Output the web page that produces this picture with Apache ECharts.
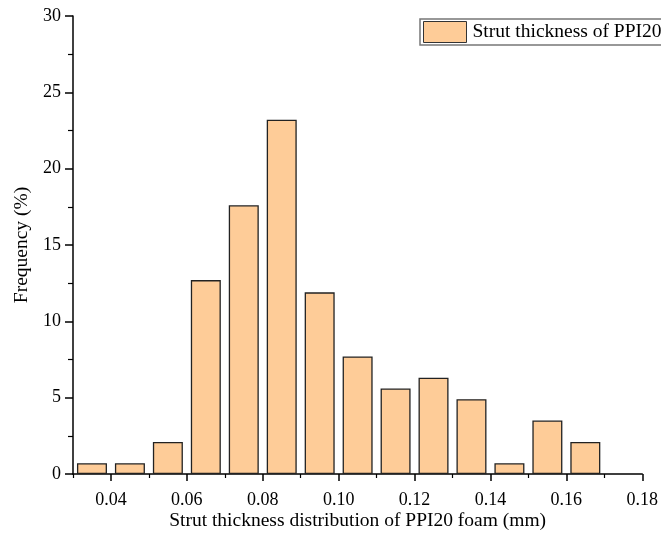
<!DOCTYPE html>
<html>
<head>
<meta charset="utf-8">
<script src="https://cdn.jsdelivr.net/npm/echarts@6/dist/echarts.min.js"></script>
<style>html,body{margin:0;padding:0;background:#fff;}#c{width:661px;height:542px;}</style>
</head>
<body>
<div id="c"></div>
<script>
var binCenters = [0.035, 0.045, 0.055, 0.065, 0.075, 0.085, 0.095, 0.105, 0.115, 0.125, 0.135, 0.145, 0.155, 0.165];
var frequency = [0.7, 0.7, 2.1, 12.7, 17.6, 23.2, 11.9, 7.7, 5.6, 6.3, 4.9, 0.7, 3.5, 2.1];
var xMajorTicks = [0.04, 0.06, 0.08, 0.10, 0.12, 0.14, 0.16, 0.18];
var xMinorTicks = [0.03, 0.05, 0.07, 0.09, 0.11, 0.13, 0.15, 0.17];
var seriesName = 'Strut thickness of PPI20';

var font = 'Liberation Serif, Times New Roman, serif';
var chart = echarts.init(document.getElementById('c'), null, {renderer: 'canvas'});
var data = binCenters.map(function (x, i) { return [x, frequency[i]]; });

chart.setOption({
  animation: false,
  backgroundColor: '#fff',
  grid: {left: 73, right: 17, top: 16, bottom: 68, containLabel: false},
  legend: {
    left: 420, top: 19,
    padding: [2, 8, 2, 3],
    itemWidth: 43, itemHeight: 21, itemGap: 5,
    borderColor: '#777', borderWidth: 1.5,
    icon: 'rect',
    itemStyle: {borderColor: '#333', borderWidth: 1},
    textStyle: {fontFamily: font, fontSize: 19.5, color: '#000', padding: [0, 0, 0, 1]},
    data: [seriesName]
  },
  xAxis: [{
    type: 'value', min: 0.03, max: 0.18,
    name: 'Strut thickness distribution of PPI20 foam (mm)',
    nameLocation: 'middle', nameGap: 37, nameMoveOverlap: false,
    nameTextStyle: {fontFamily: font, fontSize: 19.5, color: '#000'},
    axisLine: {show: true, onZero: false, lineStyle: {color: '#000', width: 1.5}},
    axisTick: {show: true, inside: false, length: 7, lineStyle: {color: '#000', width: 1.5}, customValues: xMajorTicks},
    axisLabel: {fontFamily: font, fontSize: 18, color: '#000', margin: 17, customValues: xMajorTicks,
      formatter: function (v) { return v.toFixed(2); }},
    splitLine: {show: false}
  }, {
    type: 'value', min: 0.03, max: 0.18, position: 'bottom',
    axisLine: {show: false},
    axisTick: {show: true, inside: false, length: 4, lineStyle: {color: '#000', width: 1.2}, customValues: xMinorTicks},
    axisLabel: {show: false},
    splitLine: {show: false}
  }],
  yAxis: {
    type: 'value', min: 0, max: 30, interval: 5,
    name: 'Frequency (%)',
    nameLocation: 'middle', nameGap: 41, nameMoveOverlap: false,
    nameTextStyle: {fontFamily: font, fontSize: 19.5, color: '#000'},
    axisLine: {show: true, lineStyle: {color: '#000', width: 1.5}},
    axisTick: {show: true, inside: false, length: 8, lineStyle: {color: '#000', width: 1.5}},
    minorTick: {show: true, splitNumber: 2, length: 5, lineStyle: {color: '#000', width: 1.2}},
    axisLabel: {fontFamily: font, fontSize: 18, color: '#000', margin: 12},
    splitLine: {show: false}
  },
  series: [{
    name: seriesName,
    type: 'bar',
    xAxisIndex: 0,
    barWidth: 30,
    data: data,
    itemStyle: {color: '#FECC98', borderColor: '#222', borderWidth: 1.3}
  }]
});
</script>
</body>
</html>
